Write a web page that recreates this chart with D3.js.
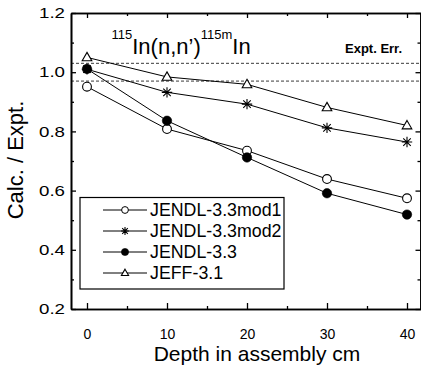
<!DOCTYPE html>
<html><head><meta charset="utf-8">
<script src="https://cdn.jsdelivr.net/npm/d3@7"></script>
<style>
body{margin:0;background:#fff;}
svg{display:block;font-family:"Liberation Sans",Arial,sans-serif;}
</style></head>
<body><svg id="c" width="421" height="366"></svg>
<script>
const depths = [0, 10, 20, 30, 40];
const mod1 = [0.951, 0.808, 0.735, 0.639, 0.574];
const mod2 = [1.010, 0.932, 0.892, 0.812, 0.764];
const jendl33 = [1.011, 0.836, 0.712, 0.591, 0.519];
const jeff31 = [1.050, 0.984, 0.959, 0.881, 0.820];
const seriesNames = ["JENDL-3.3mod1", "JENDL-3.3mod2", "JENDL-3.3", "JEFF-3.1"];
const seriesMarkers = ["circleOpen", "star", "circleFilled", "triangle"];
const errBand = [1.03, 0.97];
const xMajor = [0, 10, 20, 30, 40];
const xMinor = [5, 15, 25, 35];
const yMajor = [0.2, 0.4, 0.6, 0.8, 1.0, 1.2];
const yMinor = [0.3, 0.5, 0.7, 0.9, 1.1];

const svg = d3.select("#c");
const L = 71, R = 421, T = 13, B = 309;
const x = d3.scaleLinear().domain([-2, 41.75]).range([L, R]);
const y = d3.scaleLinear().domain([0.2, 1.2]).range([B, T]);

svg.selectAll("line.err").data(errBand).join("line")
  .attr("x1", L).attr("x2", R).attr("y1", d => y(d)).attr("y2", d => y(d))
  .attr("stroke", "#222").attr("stroke-width", 0.9).attr("stroke-dasharray", "3,2");

function styleAxis(g){
  g.select(".domain").attr("stroke","#000").attr("stroke-width",1.6);
  g.selectAll(".tick line").attr("stroke","#000").attr("stroke-width",1.3);
  g.selectAll("text").attr("fill","#000").attr("font-size",14.5).attr("font-family","Liberation Sans, Arial, sans-serif");
}
svg.append("g").attr("transform",`translate(${L},0)`)
  .call(d3.axisLeft(y).tickValues(yMajor).tickFormat(d3.format(".1f")).tickSizeInner(-5).tickSizeOuter(0).tickPadding(6)).call(styleAxis)
  .selectAll(".tick text").attr("textLength",26).attr("lengthAdjust","spacingAndGlyphs");
svg.append("g").attr("transform",`translate(${L},0)`)
  .call(d3.axisLeft(y).tickValues(yMinor).tickFormat("").tickSizeInner(-3).tickSizeOuter(0)).call(styleAxis);
svg.append("g").attr("transform",`translate(${R-0.5},0)`)
  .call(d3.axisRight(y).tickValues(yMajor).tickFormat("").tickSizeInner(-5).tickSizeOuter(0)).call(styleAxis);
svg.append("g").attr("transform",`translate(${R-0.5},0)`)
  .call(d3.axisRight(y).tickValues(yMinor).tickFormat("").tickSizeInner(-3).tickSizeOuter(0)).call(styleAxis);
svg.append("g").attr("transform",`translate(0,${B})`)
  .call(d3.axisBottom(x).tickValues(xMajor).tickFormat(d3.format("d")).tickSizeInner(-6).tickSizeOuter(0).tickPadding(20)).call(styleAxis)
  .selectAll(".tick text").attr("font-size",14);
svg.append("g").attr("transform",`translate(0,${B})`)
  .call(d3.axisBottom(x).tickValues(xMinor).tickFormat("").tickSizeInner(-3).tickSizeOuter(0)).call(styleAxis);
svg.append("g").attr("transform",`translate(0,${T})`)
  .call(d3.axisTop(x).tickValues(xMajor).tickFormat("").tickSizeInner(-5).tickSizeOuter(0)).call(styleAxis);
svg.append("g").attr("transform",`translate(0,${T})`)
  .call(d3.axisTop(x).tickValues(xMinor).tickFormat("").tickSizeInner(-3).tickSizeOuter(0)).call(styleAxis);

function drawMarker(g, type, cx, cy, s){
  const r = 4.4*s;
  if(type==="circleOpen"){
    g.append("circle").attr("cx",cx).attr("cy",cy).attr("r",r).attr("fill","#fff").attr("stroke","#000").attr("stroke-width",1.1);
  } else if(type==="circleFilled"){
    g.append("circle").attr("cx",cx).attr("cy",cy).attr("r",r+0.3).attr("fill","#000").attr("stroke","#000").attr("stroke-width",0.6);
  } else if(type==="triangle"){
    const h = 8.4*s, w = 9.6*s;
    g.append("path").attr("d",`M${cx},${cy-h*0.6}L${cx+w/2},${cy+h*0.4}L${cx-w/2},${cy+h*0.4}Z`)
      .attr("fill","#fff").attr("stroke","#000").attr("stroke-width",1.1);
  } else if(type==="star"){
    const a = 5.2*s, d = a*0.72;
    g.append("path").attr("d",`M${cx-a},${cy}L${cx+a},${cy}M${cx},${cy-a}L${cx},${cy+a}M${cx-d},${cy-d}L${cx+d},${cy+d}M${cx-d},${cy+d}L${cx+d},${cy-d}`)
      .attr("stroke","#000").attr("stroke-width",1.1).attr("fill","none");
  }
}

const allSeries = [mod1, mod2, jendl33, jeff31];
const line = d3.line().x((d,i)=>x(depths[i])).y(d=>y(d));
allSeries.forEach((vals)=>{
  svg.append("path").datum(vals).attr("d",line).attr("fill","none").attr("stroke","#000").attr("stroke-width",1);
});
[1,3,0,2].forEach(si=>{
  const g = svg.append("g");
  allSeries[si].forEach((v,i)=>drawMarker(g, seriesMarkers[si], x(depths[i]), y(v), 1));
});

const t = svg.append("text").attr("x",111.5).attr("y",53.5).attr("fill","#000").attr("font-size",22);
t.append("tspan").attr("font-size",13).attr("dy",-14.5).text("115");
t.append("tspan").attr("dy",14.5).text("In(n,n\u2019)");
t.append("tspan").attr("font-size",13).attr("dy",-14.5).text("115m");
t.append("tspan").attr("dy",14.5).text("In");

svg.append("text").attr("x",345).attr("y",53).attr("font-size",13).attr("font-weight","bold").attr("fill","#000").text("Expt. Err.");

const lg = svg.append("g");
lg.append("rect").attr("x",80).attr("y",197.5).attr("width",204).attr("height",91.5)
  .attr("fill","#fff").attr("stroke","#000").attr("stroke-width",1.2);
const rowY = [210, 231, 252, 273];
seriesNames.forEach((nm,i)=>{
  lg.append("line").attr("x1",103).attr("x2",147).attr("y1",rowY[i]).attr("y2",rowY[i]).attr("stroke","#000").attr("stroke-width",1);
  const mg = lg.append("g");
  if(seriesMarkers[i]==="circleOpen") mg.append("circle").attr("cx",125).attr("cy",rowY[i]).attr("r",3.4).attr("fill","#fff").attr("stroke","#000").attr("stroke-width",1);
  else drawMarker(mg, seriesMarkers[i], 125, rowY[i], 0.75);
  lg.append("text").attr("x",150).attr("y",rowY[i]).attr("dy","0.36em").attr("font-size",17.8).attr("fill","#000").text(nm);
});

svg.append("text").attr("x",257).attr("y",360.5).attr("text-anchor","middle").attr("font-size",21).attr("fill","#000").text("Depth in assembly cm");
svg.append("text").attr("transform","translate(23,160) rotate(-90)").attr("text-anchor","middle").attr("font-size",22).attr("fill","#000").text("Calc. / Expt.");
</script></body></html>
